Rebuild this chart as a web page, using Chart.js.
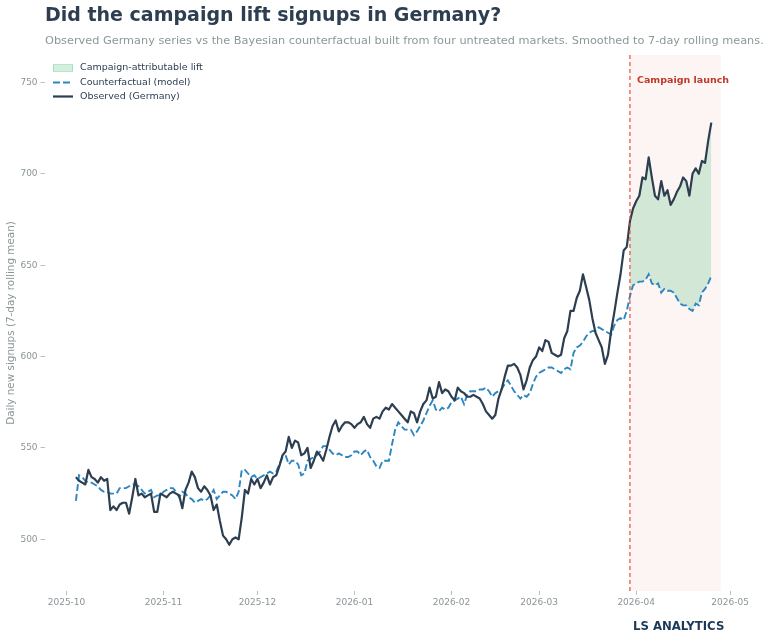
<!DOCTYPE html>
<html>
<head>
<meta charset="utf-8">
<script src="https://cdn.jsdelivr.net/npm/chart.js@4.4.1/dist/chart.umd.min.js"></script>
<style>
html,body{margin:0;padding:0;background:#ffffff;}
#wrap{width:768px;height:641px;position:relative;}
</style>
</head>
<body>
<div id="wrap"><canvas id="c" width="768" height="641"></canvas></div>
<script>
// ---- data ----
const axisOrigin = '2025-10-01';
const firstDate = '2025-10-04';
const launchDate = '2026-03-30';
const spanEndDate = '2026-04-28';

const observed = [
  534,532,531,530,538,534,533,531,534,532,
  533,516,518,516,519,520,520,514,523,533,
  524,525,523,524,525,515,515,525,524,523,
  525,526,525,524,517,527,531,537,534,528,
  526,529,527,524,516,519,510,502,500,497,
  500,501,500,512,527,525,533,530,533,528,
  531,535,530,534,535,540,546,548,556,550,
  554,553,546,547,550,539,543,548,546,543,
  549,556,562,565,559,562,564,564,563,561,
  563,564,567,563,561,566,567,566,570,572,
  571,574,572,570,568,566,564,570,569,564,
  570,574,576,583,577,578,586,580,582,581,
  578,576,583,581,580,578,578,579,578,577,
  574,570,568,566,568,577,582,589,595,595,
  596,594,590,582,587,594,598,600,605,603,
  609,608,602,601,600,601,610,614,625,625,
  632,636,645,638,631,621,613,609,605,596,
  601,614,624,635,645,658,660,674,681,685,
  688,698,697,709,698,688,686,696,688,691,
  683,686,690,693,698,696,688,700,703,700,
  707,706,718,728
];

const counterfactual = [
  521,535,534,532,531,531,530,529,527,526,
  526,525,525,525,528,528,528,529,530,530,
  529,527,525,526,527,523,524,524,526,527,
  528,528,526,523,526,525,523,522,520,521,
  522,521,522,524,527,522,524,526,526,525,
  524,522,526,538,538,536,534,535,533,534,
  535,536,537,536,537,541,545,546,541,543,
  543,541,535,536,543,544,545,546,548,551,
  551,549,547,546,547,546,545,545,546,548,
  548,546,548,549,545,543,540,539,543,543,
  543,552,560,564,562,560,560,560,557,559,
  562,565,569,573,576,571,570,572,571,572,
  575,576,577,578,574,579,581,581,581,582,
  582,583,581,578,580,581,582,585,587,584,
  581,579,577,579,578,580,585,589,591,592,
  593,594,594,593,592,591,593,594,593,602,
  605,606,608,611,613,614,614,616,615,614,
  613,612,617,620,621,620,625,633,639,640,
  641,641,642,645,640,639,640,635,637,636,
  636,635,632,629,628,628,626,625,629,628,
  635,637,640,644
];

const yTickValues = [500, 550, 600, 650, 700, 750];
const monthTickLabels = ['2025-10','2025-11','2025-12','2026-01','2026-02','2026-03','2026-04','2026-05'];

const legendLabels = ['Campaign-attributable lift', 'Counterfactual (model)', 'Observed (Germany)'];
const titleText = 'Did the campaign lift signups in Germany?';
const subtitleText = 'Observed Germany series vs the Bayesian counterfactual built from four untreated markets. Smoothed to 7-day rolling means.';
const yTitleText = 'Daily new signups (7-day rolling mean)';
const launchText = 'Campaign launch';
const brandText = 'LS ANALYTICS';

// ---- helpers ----
const DAY = 86400000;
function dayOf(s) {
  const p = s.split('-').map(Number);
  const o = axisOrigin.split('-').map(Number);
  return Math.round((Date.UTC(p[0], p[1]-1, p[2] || 1) - Date.UTC(o[0], o[1]-1, o[2])) / DAY);
}
const firstDay = dayOf(firstDate);
const launchDay = dayOf(launchDate);
const spanEndDay = dayOf(spanEndDate);
const monthTickDays = monthTickLabels.map(m => dayOf(m + '-01'));

const obsPts = observed.map((v, i) => ({x: firstDay + i, y: v}));
const cfPts = counterfactual.map((v, i) => ({x: firstDay + i, y: v}));
const liftUpper = obsPts.filter(p => p.x >= launchDay);
const liftLower = cfPts.filter(p => p.x >= launchDay);

const FONT = "'DejaVu Sans', 'Liberation Sans', sans-serif";
const TICK_COLOR = '#8a9597';
const DARK = '#2c3e50';
const BLUE = '#2e86c1';
const GREEN_FILL = 'rgba(39,174,96,0.20)';

const decoPlugin = {
  id: 'deco',
  beforeDatasetsDraw(chart) {
    const {ctx, chartArea: a, scales: {x}} = chart;
    const x0 = x.getPixelForValue(launchDay);
    const x1 = x.getPixelForValue(spanEndDay);
    ctx.save();
    ctx.fillStyle = 'rgba(192,57,43,0.05)';
    ctx.fillRect(x0, a.top, x1 - x0, a.bottom - a.top);
    ctx.restore();
  },
  afterDatasetsDraw(chart) {
    const {ctx, chartArea: a, scales: {x}} = chart;
    const x0 = x.getPixelForValue(launchDay);
    ctx.save();
    ctx.strokeStyle = '#e74c3c';
    ctx.lineWidth = 1.2;
    ctx.setLineDash([4, 3]);
    ctx.beginPath();
    ctx.moveTo(x0, a.top);
    ctx.lineTo(x0, a.bottom);
    ctx.stroke();
    ctx.setLineDash([]);
    ctx.fillStyle = '#c0392b';
    ctx.font = 'bold 9.5px ' + FONT;
    ctx.textAlign = 'left';
    ctx.textBaseline = 'middle';
    ctx.fillText(launchText, x0 + 7, 81);
    ctx.restore();
  },
  afterDraw(chart) {
    const {ctx, chartArea: a} = chart;
    ctx.save();
    // title
    ctx.fillStyle = DARK;
    ctx.font = 'bold 19px ' + FONT;
    ctx.textAlign = 'left';
    ctx.textBaseline = 'middle';
    ctx.fillText(titleText, 45, 16);
    // subtitle
    ctx.fillStyle = '#8c979a';
    ctx.font = '11.3px ' + FONT;
    ctx.fillText(subtitleText, 45, 41.5);
    // y title
    ctx.save();
    ctx.translate(11.5, (a.top + a.bottom) / 2);
    ctx.rotate(-Math.PI / 2);
    ctx.textAlign = 'center';
    ctx.fillStyle = TICK_COLOR;
    ctx.font = '10.4px ' + FONT;
    ctx.fillText(yTitleText, 0, 0);
    ctx.restore();
    // legend
    const lx = 53, lw = 20, tx = 80;
    const rows = [68, 82.5, 96.5];
    ctx.fillStyle = GREEN_FILL;
    ctx.fillRect(lx, rows[0] - 3.5, lw, 7);
    ctx.strokeStyle = 'rgba(39,174,96,0.25)';
    ctx.lineWidth = 1;
    ctx.strokeRect(lx + 0.5, rows[0] - 3.5, lw - 1, 7);
    ctx.strokeStyle = BLUE;
    ctx.lineWidth = 2;
    ctx.setLineDash([7, 3]);
    ctx.beginPath(); ctx.moveTo(lx, rows[1]); ctx.lineTo(lx + lw, rows[1]); ctx.stroke();
    ctx.setLineDash([]);
    ctx.strokeStyle = DARK;
    ctx.lineWidth = 2.2;
    ctx.beginPath(); ctx.moveTo(lx, rows[2]); ctx.lineTo(lx + lw, rows[2]); ctx.stroke();
    ctx.fillStyle = DARK;
    ctx.font = '9.5px ' + FONT;
    ctx.textBaseline = 'middle';
    legendLabels.forEach((t, i) => ctx.fillText(t, tx, rows[i]));
    // brand
    ctx.fillStyle = '#1b3a57';
    ctx.font = "bold 13px 'DejaVu Sans Condensed', 'DejaVu Sans', sans-serif";
    ctx.textAlign = 'left';
    ctx.fillText(brandText, 633, 627);
    ctx.restore();
  }
};

new Chart(document.getElementById('c'), {
  type: 'line',
  data: {
    datasets: [
      {
        label: legendLabels[0],
        data: liftUpper,
        borderWidth: 0,
        borderColor: 'rgba(0,0,0,0)',
        backgroundColor: GREEN_FILL,
        pointRadius: 0,
        fill: '+1',
        tension: 0,
        order: 2
      },
      {
        label: 'lift-base',
        data: liftLower,
        borderWidth: 0,
        borderColor: 'rgba(0,0,0,0)',
        pointRadius: 0,
        fill: false,
        tension: 0,
        order: 3
      },
      {
        label: legendLabels[1],
        data: cfPts,
        borderColor: BLUE,
        borderWidth: 1.9,
        borderDash: [7, 3],
        pointRadius: 0,
        fill: false,
        tension: 0,
        order: 1
      },
      {
        label: legendLabels[2],
        data: obsPts,
        borderColor: DARK,
        borderWidth: 2.2,
        pointRadius: 0,
        fill: false,
        tension: 0,
        borderJoinStyle: 'round',
        order: 0
      }
    ]
  },
  options: {
    responsive: false,
    animation: false,
    devicePixelRatio: 1,
    layout: {padding: {left: 0, right: 16, top: 55, bottom: 30}},
    plugins: {legend: {display: false}, tooltip: {enabled: false}, title: {display: false}},
    scales: {
      x: {
        type: 'linear',
        min: -7,
        max: 219,
        afterFit(s) { s.height = 20; },
        afterBuildTicks(s) { s.ticks = monthTickDays.map(v => ({value: v})); },
        border: {display: false},
        grid: {drawOnChartArea: false, drawTicks: true, tickLength: 4, color: '#b8bfc0', lineWidth: 1},
        ticks: {
          padding: 2,
          color: TICK_COLOR,
          font: {family: FONT, size: 9},
          maxRotation: 0,
          autoSkip: false,
          callback: (v) => monthTickLabels[monthTickDays.indexOf(v)]
        }
      },
      y: {
        type: 'linear',
        min: 471.7,
        max: 765,
        afterFit(s) { s.width = 44.6; },
        afterBuildTicks(s) { s.ticks = yTickValues.map(v => ({value: v})); },
        border: {display: false},
        grid: {drawOnChartArea: false, drawTicks: true, tickLength: 4, color: '#b8bfc0', lineWidth: 1},
        ticks: {
          padding: 3,
          color: TICK_COLOR,
          font: {family: FONT, size: 9},
          callback: (v) => String(v)
        }
      }
    }
  },
  plugins: [decoPlugin]
});
</script>
</body>
</html>
